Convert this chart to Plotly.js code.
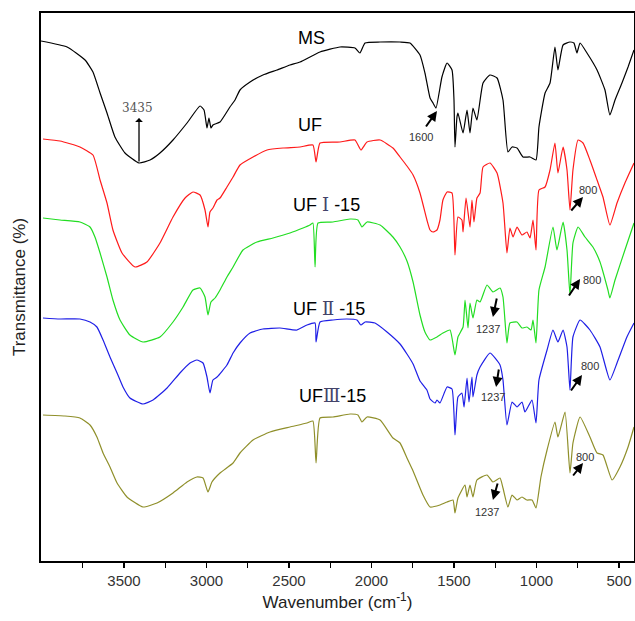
<!DOCTYPE html>
<html>
<head>
<meta charset="utf-8">
<script src="https://cdn.plot.ly/plotly-3.0.1.min.js"></script>
<style>html,body{margin:0;padding:0;background:#fff;}#chart{width:635px;height:621px;}</style>
</head>
<body>
<div id="chart"></div>
<script>
// Wavenumbers (cm-1) and offset transmittance values (arbitrary units)
const msWn  = [4003,3845,3736,3688,3645,3603,3555,3494,3409,3342,3282,3203,3118,3039,3015,2997,2985,2973,2961,2918,2858,2827,2797,2736,2658,2573,2494,2433,2312,2191,2100,2070,2039,1948,1827,1767,1706,1676,1645,1627,1609,1573,1542,1512,1500,1494,1482,1476,1445,1421,1403,1385,1361,1324,1282,1239,1203,1173,1148,1118,1082,1039,1003,985,948,918,888,870,839,797,773,755,736,694,633,585,555,524,482,445,409];
const msT   = [520,514,501,489,468,448,424,408,398,401,408,421,438,455,451,433,443,433,436,439,454,461,471,479,486,491,496,499,509,514,513,508,518,519,519,518,506,488,463,458,453,484,498,491,461,414,444,448,428,451,428,453,441,478,486,483,461,409,414,413,404,404,401,434,468,478,514,491,516,519,518,508,518,508,491,471,446,461,478,494,511];

const ufWn  = [3991,3888,3767,3688,3645,3603,3567,3512,3433,3361,3282,3203,3130,3082,3039,3009,2991,2979,2961,2936,2918,2876,2839,2797,2718,2633,2536,2433,2355,2336,2312,2191,2100,2064,2027,1948,1870,1827,1785,1748,1706,1664,1645,1627,1603,1585,1567,1542,1512,1494,1476,1452,1445,1427,1403,1391,1379,1361,1342,1324,1282,1239,1203,1179,1161,1142,1118,1088,1058,1039,1021,1003,985,948,918,888,870,839,815,797,779,748,718,676,633,597,555,512,464,409];
const ufT   = [422,420,414,406,381,358,331,308,294,299,318,344,363,369,366,351,334,349,353,361,363,374,384,396,404,411,413,414,416,399,418,419,421,411,419,421,413,404,395,386,368,341,331,329,331,341,361,369,368,306,344,341,329,363,334,361,339,363,368,394,398,388,358,308,333,324,334,326,329,323,341,311,371,374,391,418,388,414,391,351,391,421,418,401,381,364,336,358,378,398];

const uf1Wn = [3991,3888,3767,3706,3676,3645,3603,3567,3524,3464,3385,3282,3203,3142,3082,3039,3009,2991,2973,2948,2918,2876,2839,2779,2694,2597,2494,2415,2373,2355,2342,2324,2233,2130,2082,2058,2027,1948,1870,1827,1785,1748,1706,1676,1645,1603,1567,1524,1494,1476,1445,1433,1415,1403,1385,1361,1342,1300,1264,1221,1203,1179,1161,1118,1088,1058,1033,1021,1003,985,948,900,876,839,815,797,779,748,706,658,615,567,555,524,464,409];
const uf1T  = [343,341,339,334,324,308,284,261,241,226,219,224,239,254,271,273,264,246,259,263,271,284,294,311,319,323,328,333,336,338,294,338,339,342,341,334,339,336,324,314,300,279,246,229,221,224,228,231,206,224,234,261,233,258,243,261,259,276,269,273,264,218,238,239,233,234,231,241,218,271,294,334,311,339,311,266,318,334,324,314,299,271,263,281,311,338];

const uf2Wn = [3991,3888,3767,3706,3664,3627,3585,3542,3506,3464,3385,3324,3239,3161,3100,3058,3021,2997,2979,2961,2936,2876,2839,2797,2736,2658,2555,2452,2391,2342,2336,2312,2233,2149,2088,2064,2039,1979,1906,1827,1785,1748,1706,1664,1645,1615,1603,1585,1542,1512,1494,1476,1452,1439,1421,1409,1391,1385,1361,1342,1282,1221,1203,1179,1148,1118,1088,1070,1052,1027,1003,985,936,900,870,839,815,797,779,736,676,615,555,512,452,409];
const uf2T  = [243,242,242,239,234,221,204,188,174,163,157,161,173,188,198,201,198,184,168,181,184,196,208,218,228,232,233,231,236,238,219,239,241,242,241,236,239,238,229,217,207,197,180,171,162,158,161,158,174,172,126,164,168,154,183,159,184,164,186,194,208,196,181,136,159,154,159,149,154,161,138,181,211,231,219,231,214,171,224,241,231,214,181,198,224,238];

const uf3Wn = [3991,3858,3767,3706,3664,3627,3585,3542,3482,3385,3300,3203,3118,3058,3021,2991,2967,2918,2839,2797,2718,2615,2494,2391,2355,2336,2312,2233,2130,2082,2058,2027,1948,1870,1827,1785,1748,1688,1645,1585,1542,1506,1494,1476,1433,1421,1403,1385,1361,1300,1264,1221,1203,1173,1148,1118,1088,1058,1027,1003,973,936,888,870,827,797,779,736,676,633,597,542,494,445,409];
const uf3T  = [146,145,143,136,124,108,94,78,64,54,58,68,79,84,83,69,79,88,98,108,121,129,134,138,140,98,143,144,147,146,139,144,141,123,118,103,90,66,54,56,59,61,48,63,76,64,76,64,81,86,79,83,73,54,66,61,64,61,61,53,84,111,139,124,149,88,118,144,124,108,106,81,94,114,134];

const xTicks = [3500,3000,2500,2000,1500,1000,500];
const seriesNames = ['MS','UF','UF Ⅰ -15','UF Ⅱ -15','UFⅢ-15'];
const seriesColors = ['#000000','#ff1a1a','#22dd22','#1f1fe6','#8f8f2a'];

const traces = [[msWn,msT],[ufWn,ufT],[uf1Wn,uf1T],[uf2Wn,uf2T],[uf3Wn,uf3T]].map((d,i)=>({
  x:d[0], y:d[1], type:'scatter', mode:'lines', name:seriesNames[i],
  line:{color:seriesColors[i], width:1.2, shape:'spline', smoothing:0.45}, hoverinfo:'skip'
}));

const sans = 'Arial, Liberation Sans, sans-serif';
const serif = 'DejaVu Serif, Liberation Serif, serif';
const rom = (s)=>'<span style="font-family:DejaVu Serif, serif;color:#44446a">'+s+'</span>';

function lab(x,y,text,size,family,color){
  return {x:x,y:y,xref:'x',yref:'y',text:text,showarrow:false,font:{size:size,family:family||sans,color:color||'#000'}};
}
function arr(x,y,ax,ay,head,w){
  return {x:x,y:y,ax:ax,ay:ay,xref:'x',yref:'y',axref:'x',ayref:'y',text:'',showarrow:true,
    arrowhead:head,arrowsize:1,arrowwidth:w,arrowcolor:'#000'};
}

const annotations = [
  lab(2361,523,'MS',18),
  lab(2373,436,'UF',18),
  lab(2270,357,'UF '+rom('Ⅰ')+' -15',18),
  lab(2258,253,'UF '+rom('Ⅱ')+' -15',18),
  lab(2239,166,'UF'+rom('Ⅲ')+'-15',18),
  lab(3421,453,'3435',12,serif,'#555'),
  arr(3409,443,3409,398,1,1.3),
  lab(1700,424,'1600',11,sans,'#333'),
  arr(1603,450,1676,433,2,2),
  lab(688,371,'800',11,sans,'#333'),
  arr(718,364,797,349,2,2),
  lab(664,281,'800',11,sans,'#333'),
  arr(736,282,809,264,2,2),
  lab(676,195,'800',11,sans,'#333'),
  arr(724,186,797,169,2,2),
  lab(706,104,'800',11,sans,'#333'),
  arr(718,98,785,84,2,2),
  lab(1294,232,'1237',11,sans,'#333'),
  arr(1264,244,1239,264,2,2),
  lab(1264,164,'1237',11,sans,'#333'),
  arr(1245,174,1227,193,2,2),
  lab(1300,49,'1237',11,sans,'#333'),
  arr(1264,61,1233,79,2,2)
];

const layout = {
  width:635, height:621,
  margin:{l:41,r:1,t:13,b:60,pad:0},
  paper_bgcolor:'#fff', plot_bgcolor:'#fff',
  showlegend:false,
  font:{family:sans,color:'#000'},
  xaxis:{
    range:[4003,409], tickmode:'array', tickvals:xTicks, ticktext:xTicks.map(String),
    ticks:'outside', ticklen:5, tickwidth:1.3, tickcolor:'#000',
    minor:{tickmode:'array', tickvals:[3750,3250,2750,2250,1750,1250,750], ticks:'outside', ticklen:5, tickwidth:1.3, tickcolor:'#000', showgrid:false},
    showgrid:false, zeroline:false, showline:true, linecolor:'#000', linewidth:1.6, mirror:true,
    tickfont:{size:15,family:sans,color:'#333'},
    title:{text:'Wavenumber (cm<sup>-1</sup>)', font:{size:17,family:sans,color:'#222'}, standoff:8}
  },
  yaxis:{
    range:[0,548], showticklabels:false, ticks:'', showgrid:false, zeroline:false,
    showline:true, linecolor:'#000', linewidth:1.6, mirror:true,
    title:{text:'Transmittance (%)', font:{size:17,family:sans,color:'#222'}, standoff:9}
  },
  annotations:annotations
};

Plotly.newPlot('chart', traces, layout, {displayModeBar:false, staticPlot:true});
</script>
</body>
</html>
